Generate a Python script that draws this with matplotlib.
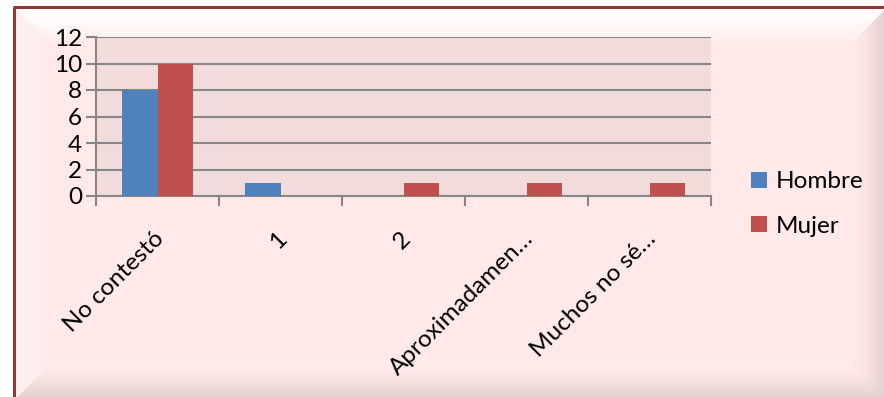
import numpy as np
import matplotlib
matplotlib.use("Agg")
import matplotlib.pyplot as plt
from matplotlib.ticker import FixedLocator
from matplotlib.transforms import ScaledTranslation

plt.rcParams['font.family'] = ['Lato', 'DejaVu Sans']

# Survey answers and counts per sex
categories = ["No contestó", "1", "2", "Aproximadamen…", "Muchos no sé…"]
hombre = [8, 1, 0, 0, 0]
mujer = [10, 0, 1, 1, 1]
series_names = ["Hombre", "Mujer"]
y_ticks = [0, 2, 4, 6, 8, 10, 12]

W, H = 884, 397
fig = plt.figure(figsize=(W / 100, H / 100), dpi=100)

# Chart-area background: pink panel with a bevelled frame
yy, xx = np.mgrid[0:H, 0:W].astype(float)
base = np.array([1.0, 0.914, 0.914])
img = np.ones((H, W, 3))
x0, y0, x1, y1 = 15.0, 8.0, 886.0, 399.0
bw = 34.0
dl, dt, dr, db = xx - x0, yy - y0, x1 - xx, y1 - yy
inside = (dl >= 0) & (dt >= 0)
img[inside] = base
dmin = np.minimum.reduce([dl, dt, dr, db])
white = np.array([1.0, 1.0, 1.0])
light = np.array([1.0, 0.95, 0.95])
dark = np.array([0.88, 0.80, 0.80])
for d, col, pw in [(dt, white, 0.6), (dl, light, 1.0),
                   (db, dark, 1.6), (dr, dark, 1.6)]:
    m = inside & (d == dmin) & (d < bw)
    t = np.clip(1 - d[m] / bw, 0, 1) ** pw
    img[m] = img[m] * (1 - t[:, None]) + col * t[:, None]

bg = fig.add_axes([0, 0, 1, 1], zorder=-10)
bg.imshow(img, extent=(0, W, H, 0), aspect='auto', interpolation='bilinear')
# dark red frame on the left and top
bg.plot([14, 14], [7, H], color='#953735', lw=2.2, solid_capstyle='butt')
bg.plot([13, W], [7, 7], color='#953735', lw=2.2, solid_capstyle='butt')
bg.set_xlim(0, W)
bg.set_ylim(H, 0)
bg.axis('off')

# Plot area
left, right, top, bottom = 96, 711, 37, 196
ax = fig.add_axes([left / W, 1 - bottom / H, (right - left) / W, (bottom - top) / H])
ax.set_facecolor('#F2DCDB')

x = np.arange(len(categories))
bwid = 0.285
ax.bar(x - bwid / 2, hombre, width=bwid, color='#4F81BD', label=series_names[0], zorder=3)
ax.bar(x + bwid / 2, mujer, width=bwid, color='#C0504D', label=series_names[1], zorder=3)

ax.set_xlim(-0.5, len(categories) - 0.5)
ax.set_ylim(0, 12)
ax.set_yticks(y_ticks)
ax.yaxis.grid(True, color='#868686', lw=1.5, zorder=1)
ax.set_axisbelow(True)

for s in ['top', 'right']:
    ax.spines[s].set_visible(False)
for s in ['left', 'bottom']:
    ax.spines[s].set_color('#868686')
    ax.spines[s].set_linewidth(1.5)

ax.tick_params(axis='y', length=7, width=1.5, color='#868686', labelsize=17.5, pad=3)
ax.set_xticks(x)
ax.set_xticklabels(categories, rotation=45, ha='right', va='top', rotation_mode='anchor')
ax.tick_params(axis='x', which='major', length=0, labelsize=17.5, pad=23)
shift = ScaledTranslation(-4 / 100, 0, fig.dpi_scale_trans)
for lbl in ax.get_xticklabels():
    lbl.set_transform(lbl.get_transform() + shift)
ax.xaxis.set_minor_locator(FixedLocator(np.arange(-0.5, len(categories), 1.0)))
ax.tick_params(axis='x', which='minor', length=7, width=1.5, color='#868686')

fig.legend(loc='center left', bbox_to_anchor=(751 / W, 1 - 204 / H), frameon=False,
           fontsize=17.5, handlelength=0.65, handleheight=0.65, handletextpad=0.35,
           labelspacing=0.95, borderpad=0, borderaxespad=0)

fig.savefig('out.png', dpi=100)
